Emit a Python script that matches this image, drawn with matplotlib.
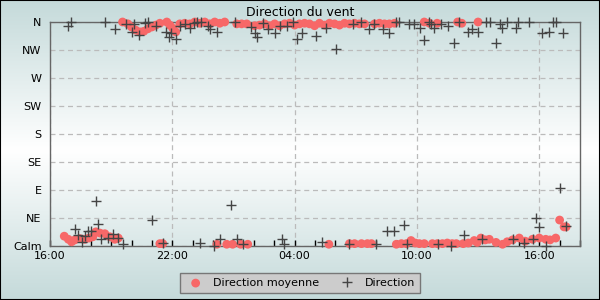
"""
Direction du vent - recreated chart
"""

import matplotlib
matplotlib.use("Agg")
import matplotlib.pyplot as plt
import numpy as np

# hours since 16:00 on day 1, direction in degrees (0 = calm, 360 = N)
moy_h = [3.56, 3.82, 4.0, 4.2, 4.41, 4.6, 4.8, 5.0, 5.19, 5.39, 5.73, 5.88, 6.02, 6.17,
         6.37, 6.61, 6.86, 7.1, 7.35, 7.59, 7.84, 8.08, 8.33, 8.57, 9.16, 9.4, 9.65,
         10.04, 10.28, 10.53, 10.77, 11.02, 11.26, 11.51, 11.75, 12.0, 12.24, 12.49,
         12.73, 12.98, 13.22, 13.47, 13.71, 13.96, 14.2, 14.45, 14.69, 14.94, 15.18,
         15.43, 15.92, 16.16, 16.41, 16.65, 16.9, 18.36, 18.61, 18.99, 20.0, 20.2, 21.0,
         0.70, 0.90, 1.06, 1.22, 1.47, 1.71, 1.91, 2.1, 2.25, 2.45, 2.69, 2.94, 3.18, 3.35,
         5.39, 5.53, 8.19, 8.67, 8.96, 9.35, 9.7, 13.68, 14.69, 14.94, 15.28, 15.57, 15.77,
         16.99, 17.24, 17.48, 17.71, 17.92, 18.12, 18.36, 18.76, 19.0, 19.25, 19.49, 19.73,
         19.93, 20.27, 20.52, 20.81, 20.96, 21.14, 21.35, 21.55, 21.88, 22.2, 22.43, 22.69,
         23.02, 23.31, 23.67, 24.0, 24.32, 24.53, 24.81, 25.0, 25.22, 25.32]
moy_deg = [360, 357, 352, 347, 344, 345, 349, 352, 355, 358, 360, 355, 350, 344,
           357, 358, 357, 360, 358, 360, 357, 360, 358, 360, 357, 357, 357,
           354, 355, 357, 354, 357, 354, 357, 358, 355, 357, 358,
           357, 354, 358, 355, 358, 357, 355, 358, 357, 358, 357,
           357, 357, 358, 357, 357, 358, 360, 358, 358, 360, 358, 360,
           15, 10, 6, 9, 11, 10, 12, 14, 22, 20, 19, 14, 10, 12,
           3, 3, 2, 2, 2, 2, 2, 2, 3, 3, 3, 3, 3,
           2, 3, 3, 8, 4, 3, 3, 3, 3, 3, 4, 3,
           3, 3, 4, 8, 5, 12, 9, 10, 5, 2, 6, 9,
           12, 7, 10, 12, 10, 9, 12, 41, 30, 30]

dir_h = [0.90, 1.01, 2.71, 3.2, 3.72, 4.02, 4.11, 4.36, 4.65, 4.8, 5.19, 5.67, 5.83, 5.96,
         6.17, 6.37, 6.63, 6.86, 7.05, 7.23, 7.43, 7.75, 7.87, 8.19, 9.06, 9.88, 10.04,
         10.17, 10.45, 10.69, 11.02, 11.26, 11.64, 11.92, 12.13, 12.38, 13.03, 13.55,
         14.04, 14.86, 15.26, 15.67, 15.87, 16.32, 16.65, 16.98, 17.14, 17.63, 17.87,
         18.17, 18.33, 18.61, 18.69, 18.82, 19.18, 19.5, 19.83, 20.04, 20.49, 20.7, 21.0,
         21.41, 21.58, 21.86, 22.09, 22.15, 22.44, 22.85, 22.98, 23.51, 24.16, 24.49,
         24.68, 24.81, 25.19,
         1.21, 1.38, 1.55, 1.71, 1.88, 2.0, 2.24, 2.37, 2.5, 2.83, 3.07, 3.32, 3.56, 5.01,
         5.55, 7.38, 8.04, 8.36, 8.88, 9.17, 9.47, 11.38, 11.49, 13.34, 14.69, 16.0,
         16.54, 16.86, 17.35, 17.52, 19.02, 19.67, 20.32, 21.17, 22.69, 23.26, 23.67,
         23.83, 24.0, 24.35, 25.0, 25.3]
dir_deg = [354, 360, 360, 348, 357, 344, 357, 339, 358, 360, 354, 344, 336, 342,
           333, 354, 357, 350, 358, 360, 360, 354, 348, 344, 360, 352, 342,
           336, 358, 348, 342, 354, 354, 360, 333, 342, 337, 351,
           316, 357, 360, 348, 357, 348, 342, 360, 360, 357, 357,
           350, 331, 360, 357, 350, 357, 354, 326, 360, 344, 348, 344,
           360, 360, 326, 357, 351, 360, 350, 360, 360, 343, 344,
           360, 360, 342,
           26, 17, 5, 15, 23, 23, 72, 35, 10, 12, 19, 12, 2, 41,
           4, 4, 0, 10, 66, 10, 2, 10, 2, 6, 2, 2,
           23, 23, 33, 2, 2, 0, 17, 10, 10, 4, 10,
           44, 30, 0, 92, 31]

dir_ticks = [0, 45, 90, 135, 180, 225, 270, 315, 360]
dir_labels = ['Calm', 'NE', 'E', 'SE', 'S', 'SW', 'W', 'NW', 'N']
time_ticks = [0, 6, 12, 18, 24]
time_labels = ['16:00', '22:00', '04:00', '10:00', '16:00']


if __name__ == "__main__":
    plt.rcParams['font.family'] = 'DejaVu Sans'
    plt.rcParams['font.size'] = 8

    fig = plt.figure(figsize=(6, 3), dpi=100)

    # background gradient (teal at top/bottom, white in the middle)
    bg = fig.add_axes([0, 0, 1, 1], zorder=-10)
    edge = np.array([0.77, 0.855, 0.855])
    t = np.abs(np.linspace(-1, 1, 300))[:, None, None]
    grad = (1 - t) * np.ones(3) + t * edge
    bg.imshow(grad, aspect='auto', extent=[0, 1, 0, 1])
    bg.set_xticks([])
    bg.set_yticks([])
    for s in bg.spines.values():
        s.set_color('black')
        s.set_linewidth(1.5)

    ax = fig.add_axes([50/600, 54.5/300, 530/600, 223.5/300])
    ax.set_facecolor('none')

    ax.scatter(moy_h, moy_deg, s=40, color='#f76868', edgecolors='none',
               zorder=3, clip_on=False, label='Direction moyenne')
    ax.plot(dir_h, dir_deg, ls='none', marker='+', ms=7, mew=1.0, color='#444444',
            zorder=4, clip_on=False, label='Direction')

    ax.set_xlim(0, 26)
    ax.set_ylim(0, 360)
    ax.set_yticks(dir_ticks)
    ax.set_yticklabels(dir_labels)
    ax.set_xticks(time_ticks)
    ax.set_xticklabels(time_labels)
    ax.set_xticks(np.arange(0, 27, 1), minor=True)

    ax.tick_params(axis='y', length=0, pad=6)
    ax.tick_params(axis='x', which='both', direction='in', length=4, width=1,
                   color='black', pad=4)

    for s in ax.spines.values():
        s.set_color('#666666')
        s.set_linewidth(1.0)

    ax.grid(True, which='major', color='#bbbbbb', ls=(0, (4, 3)), lw=0.9)

    fig.text(0.5, 1 - 12/300, 'Direction du vent', ha='center', va='center', fontsize=9)

    leg = fig.legend(loc='center', bbox_to_anchor=(0.5, 17/300), ncol=2,
                     fancybox=False, framealpha=1, facecolor='#cccccc',
                     edgecolor='#777777', handletextpad=0.6, columnspacing=1.5,
                     borderpad=0.45)
    leg.get_frame().set_linewidth(1.0)

    fig.savefig('out.png', dpi=100)
